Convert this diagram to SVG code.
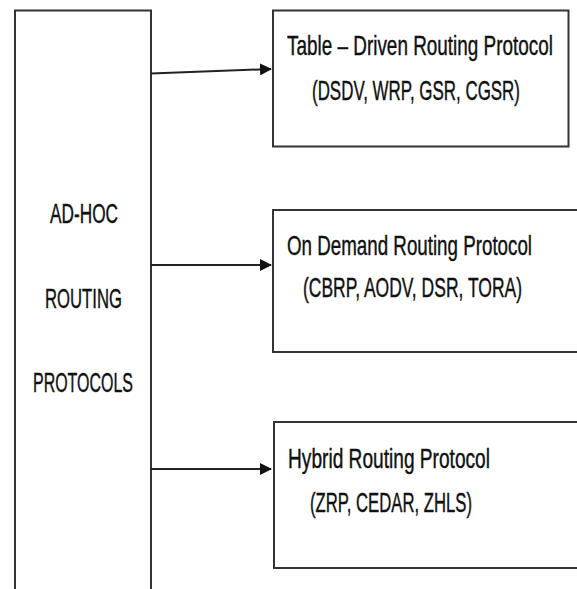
<svg xmlns="http://www.w3.org/2000/svg" width="577" height="589" viewBox="0 0 577 589">
<defs>
<style>
.box{fill:#fff;stroke:#333;stroke-width:2}
.conn{stroke:#222;stroke-width:2;fill:none}
.t{font-family:"Liberation Sans",Arial,sans-serif;font-size:19.5px;fill:#111;stroke:#111;stroke-width:0.3}
.c{text-anchor:middle}
</style>
<marker id="arr" markerWidth="12" markerHeight="12" refX="11" refY="6" orient="auto" markerUnits="userSpaceOnUse">
<path d="M0,0 L12,6 L0,12 Z" fill="#111"/>
</marker>
</defs>
<rect width="577" height="589" fill="#fff"/>
<g id="adhoc">
<rect class="box" x="15" y="10.5" width="136" height="600"/>
<text class="t c" transform="translate(84,223) scale(1,1.42)" textLength="68" lengthAdjust="spacingAndGlyphs">AD-HOC</text>
<text class="t c" transform="translate(83.5,308) scale(1,1.42)" textLength="77" lengthAdjust="spacingAndGlyphs">ROUTING</text>
<text class="t c" transform="translate(83,392) scale(1,1.42)" textLength="100" lengthAdjust="spacingAndGlyphs">PROTOCOLS</text>
</g>
<g id="table-driven">
<rect class="box" x="273" y="10.5" width="295.5" height="136"/>
<text class="t" transform="translate(287,54.5) scale(1,1.42)" textLength="266" lengthAdjust="spacingAndGlyphs">Table – Driven Routing Protocol</text>
<text class="t" transform="translate(312,100) scale(1,1.42)" textLength="208" lengthAdjust="spacingAndGlyphs">(DSDV, WRP, GSR, CGSR)</text>
</g>
<g id="on-demand">
<rect class="box" x="273" y="210" width="320" height="142"/>
<text class="t" transform="translate(287,255) scale(1,1.42)" textLength="245" lengthAdjust="spacingAndGlyphs">On Demand Routing Protocol</text>
<text class="t" transform="translate(303,297) scale(1,1.42)" textLength="219" lengthAdjust="spacingAndGlyphs">(CBRP,  AODV, DSR, TORA)</text>
</g>
<g id="hybrid">
<rect class="box" x="274" y="422" width="320" height="146"/>
<text class="t" transform="translate(288,468) scale(1,1.42)" textLength="202" lengthAdjust="spacingAndGlyphs">Hybrid Routing Protocol</text>
<text class="t" transform="translate(310,512) scale(1,1.42)" textLength="162" lengthAdjust="spacingAndGlyphs">(ZRP, CEDAR, ZHLS)</text>
</g>
<g id="connectors">
<line class="conn" x1="151" y1="73.5" x2="271" y2="69" marker-end="url(#arr)"/>
<line class="conn" x1="151" y1="265" x2="271" y2="265" marker-end="url(#arr)"/>
<line class="conn" x1="151" y1="469" x2="271" y2="469" marker-end="url(#arr)"/>
</g>
</svg>
